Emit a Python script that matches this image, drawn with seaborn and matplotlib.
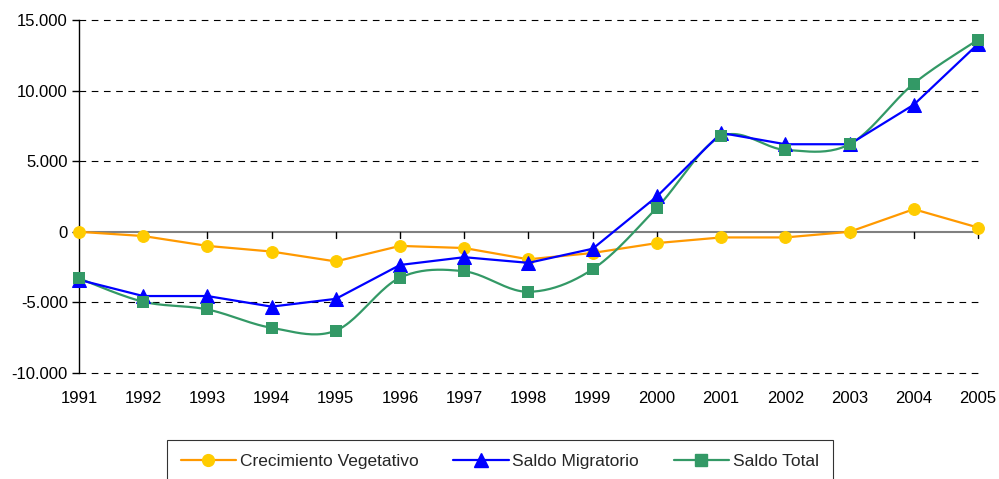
import numpy as np
import pandas as pd
import matplotlib
matplotlib.use("Agg")
import matplotlib.pyplot as plt
from matplotlib.lines import Line2D
from matplotlib.ticker import FuncFormatter
import seaborn as sns

years = [1991, 1992, 1993, 1994, 1995, 1996, 1997, 1998, 1999, 2000, 2001, 2002, 2003, 2004, 2005]
crecimiento_vegetativo = [0, -300, -1000, -1400, -2100, -1000, -1150, -1950, -1500, -800, -400, -400, 0, 1600, 300]
saldo_migratorio = [-3400, -4550, -4550, -5300, -4750, -2350, -1800, -2200, -1200, 2500, 7000, 6200, 6200, 9000, 13300]
saldo_total = [-3300, -4950, -5500, -6800, -7000, -3250, -2800, -4250, -2650, 1700, 6750, 5800, 6200, 10500, 13600]
y_ticks = [-10000, -5000, 0, 5000, 10000, 15000]
labels = ["Crecimiento Vegetativo", "Saldo Migratorio", "Saldo Total"]

sns.set_theme(style="white")
plt.rcParams["font.family"] = ["Liberation Sans", "DejaVu Sans"]

df = pd.DataFrame({"year": years, "cv": crecimiento_vegetativo,
                   "sm": saldo_migratorio, "st": saldo_total})

fig = plt.figure(figsize=(9.99, 4.79), dpi=100)
ax = fig.add_axes([0.079, 0.2213, 0.900, 0.7370])

orange, yellow = "#FF9900", "#FFCC00"
blue = "#0000FF"
green = "#339966"

# Gridlines
for v in y_ticks:
    if v != 0:
        ax.axhline(v, color="black", lw=0.8, ls=(0, (6, 5)), zorder=0, clip_on=False)
ax.axhline(0, color="#808080", lw=1.5, zorder=1)

# Crecimiento Vegetativo
sns.lineplot(data=df, x="year", y="cv", ax=ax, color=orange, lw=1.6,
             marker="o", markersize=8.5, markerfacecolor=yellow,
             markeredgecolor=yellow, zorder=3, clip_on=False)

# Saldo Total (smoothed line, Catmull-Rom style like Excel)
xs = np.asarray(years, float)
ys = np.asarray(saldo_total, float)
px, py = [], []
n = len(xs)
t = np.linspace(0, 1, 25)
for i in range(n - 1):
    p0 = np.array([xs[max(i - 1, 0)], ys[max(i - 1, 0)]])
    p1 = np.array([xs[i], ys[i]])
    p2 = np.array([xs[i + 1], ys[i + 1]])
    p3 = np.array([xs[min(i + 2, n - 1)], ys[min(i + 2, n - 1)]])
    c1 = p1 + (p2 - p0) / 6.0
    c2 = p2 - (p3 - p1) / 6.0
    b = ((1 - t) ** 3)[:, None] * p1 + (3 * (1 - t) ** 2 * t)[:, None] * c1 \
        + (3 * (1 - t) * t ** 2)[:, None] * c2 + (t ** 3)[:, None] * p2
    px.extend(b[:, 0]); py.extend(b[:, 1])
ax.plot(px, py, color=green, lw=1.6, zorder=3, clip_on=False)

# Saldo Migratorio
sns.lineplot(data=df, x="year", y="sm", ax=ax, color=blue, lw=1.6,
             marker="^", markersize=10, markerfacecolor=blue,
             markeredgecolor=blue, zorder=4, clip_on=False)

sns.scatterplot(data=df, x="year", y="st", ax=ax, color=green, marker="s",
                s=70, edgecolor=green, linewidth=0, zorder=5, clip_on=False)

ax.set_xlim(1991, 2005)
ax.set_ylim(-10000, 15000)
ax.set_yticks(y_ticks)
ax.yaxis.set_major_formatter(FuncFormatter(lambda v, p: f"{v:,.0f}".replace(",", ".")))
ax.set_xticks(years)
ax.set_xticklabels([str(y) for y in years])
ax.set_xlabel("")
ax.set_ylabel("")

for s in ["top", "right", "bottom"]:
    ax.spines[s].set_visible(False)
ax.spines["left"].set_color("black")
ax.spines["left"].set_linewidth(1.0)
ax.tick_params(axis="y", which="major", left=True, length=5, width=1, color="black",
               labelsize=12, pad=3, labelcolor="black")
ax.tick_params(axis="x", which="major", bottom=False, labelsize=12, pad=7,
               labelcolor="black")

# Year tick marks on the zero line
for y in years:
    ax.plot([y, y], [0, -450], color="black", lw=1.0, zorder=2, clip_on=False)

handles = [
    Line2D([], [], color=orange, lw=1.6, marker="o", markersize=8.5,
           markerfacecolor=yellow, markeredgecolor=yellow),
    Line2D([], [], color=blue, lw=1.6, marker="^", markersize=10,
           markerfacecolor=blue, markeredgecolor=blue),
    Line2D([], [], color=green, lw=1.6, marker="s", markersize=8,
           markerfacecolor=green, markeredgecolor=green),
]
leg = fig.legend(handles, labels, loc="upper left", bbox_to_anchor=(0.167, 0.0814),
                 ncol=3, frameon=True, fontsize=12.5, handlelength=3.2,
                 handletextpad=0.2, columnspacing=2.0, borderpad=0.8,
                 borderaxespad=0.0, fancybox=False, edgecolor="black")
leg.get_frame().set_linewidth(0.8)

fig.savefig("out.png", dpi=100)
